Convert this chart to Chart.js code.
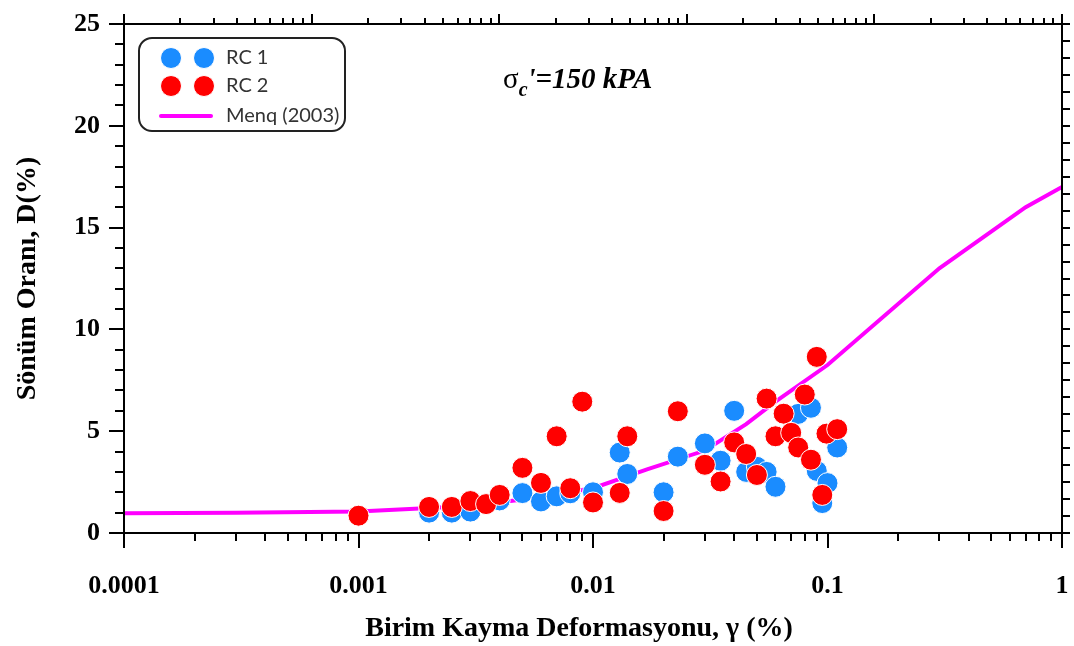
<!DOCTYPE html>
<html>
<head>
<meta charset="utf-8">
<title>Sönüm Oranı - Birim Kayma Deformasyonu</title>
<script src="https://cdn.jsdelivr.net/npm/chart.js@4.4.0/dist/chart.umd.min.js"></script>
<style>
  html, body { margin: 0; padding: 0; background: #fff; }
  #kutu { width: 1074px; height: 646px; }
</style>
</head>
<body>
<div id="kutu"><canvas id="grafik" width="1074" height="646"></canvas></div>
<script>
// Veriler (grafikten okunmuş yaklaşık değerler)
const rc1Strain = [0.002, 0.0025, 0.003, 0.004, 0.005, 0.006, 0.007, 0.008, 0.01, 0.013, 0.014, 0.02, 0.023, 0.03, 0.035, 0.04, 0.045, 0.05, 0.055, 0.06, 0.075, 0.085, 0.09, 0.095, 0.1, 0.11];
const rc1Damping = [1.0, 1.0, 1.05, 1.6, 1.96, 1.55, 1.8, 1.95, 2.0, 3.95, 2.9, 2.0, 3.75, 4.4, 3.55, 6.0, 3.0, 3.25, 3.0, 2.27, 5.85, 6.15, 3.05, 1.47, 2.45, 4.2];

const rc2Strain = [0.001, 0.002, 0.0025, 0.003, 0.0035, 0.004, 0.005, 0.006, 0.007, 0.008, 0.009, 0.01, 0.013, 0.014, 0.02, 0.023, 0.03, 0.035, 0.04, 0.045, 0.05, 0.055, 0.06, 0.065, 0.07, 0.075, 0.08, 0.085, 0.09, 0.095, 0.099, 0.11];
const rc2Damping = [0.85, 1.28, 1.28, 1.57, 1.42, 1.87, 3.2, 2.46, 4.75, 2.2, 6.45, 1.5, 1.97, 4.75, 1.08, 5.98, 3.35, 2.53, 4.45, 3.88, 2.85, 6.6, 4.75, 5.86, 4.92, 4.2, 6.8, 3.6, 8.65, 1.87, 4.88, 5.1];

const menqStrain = [0.0001, 0.0003, 0.001, 0.003, 0.005, 0.01, 0.017, 0.03, 0.045, 0.06, 0.1, 0.3, 0.7, 1];
const menqDamping = [0.97, 1.0, 1.05, 1.33, 1.65, 2.2, 3.13, 4.05, 5.35, 6.45, 8.25, 13.0, 16.0, 17.0];

const xTickValues = [0.0001, 0.001, 0.01, 0.1, 1];
const xTickLabels = ['0.0001', '0.001', '0.01', '0.1', '1'];
const yTickStep = 5;

const seriesNames = ['RC 1', 'RC 2', 'Menq (2003)'];
const xTitle = 'Birim Kayma Deformasyonu, γ (%)';
const yTitle = 'Sönüm Oranı, D(%)';

const serif = 'Liberation Serif';

function points(xs, ys) {
  return xs.map(function (v, i) { return { x: v, y: ys[i] }; });
}

function noPad(s) {
  s.paddingLeft = 0; s.paddingRight = 0; s.paddingTop = 0; s.paddingBottom = 0;
}

// Beyaz arka plan, çerçeve ve tik çizgileri
const cerceve = {
  id: 'cerceve',
  beforeDraw(chart) {
    const ctx = chart.ctx;
    ctx.save();
    ctx.fillStyle = '#fff';
    ctx.fillRect(0, 0, chart.width, chart.height);
    ctx.restore();
  },
  afterDraw(chart) {
    const ctx = chart.ctx, a = chart.chartArea;
    const x = chart.scales.x, x2 = chart.scales.x2, y = chart.scales.y, y2 = chart.scales.y2;
    ctx.save();
    ctx.strokeStyle = '#000';
    ctx.lineWidth = 2;
    ctx.strokeRect(a.left, a.top, a.right - a.left, a.bottom - a.top);
    ctx.beginPath();
    // alt eksen (log)
    for (let k = -4; k <= 0; k++) {
      for (let m = 1; m <= 9; m++) {
        const v = m * Math.pow(10, k);
        if (v > 1.000001) break;
        const px = Math.round(x.getPixelForValue(v));
        ctx.moveTo(px, a.bottom); ctx.lineTo(px, a.bottom + (m === 1 ? 15 : 8));
      }
    }
    // üst eksen (log, 5 dekad)
    for (let k = -5; k <= 0; k++) {
      for (let m = 1; m <= 9; m++) {
        const v = m * Math.pow(10, k);
        if (v > 1.000001) break;
        const px = Math.round(x2.getPixelForValue(v));
        ctx.moveTo(px, a.top); ctx.lineTo(px, a.top - (m === 1 ? 10 : 6));
      }
    }
    // sol eksen
    for (let v = 0; v <= 25; v++) {
      const py = Math.round(y.getPixelForValue(v));
      ctx.moveTo(a.left, py); ctx.lineTo(a.left - (v % 5 === 0 ? 15 : 9), py);
    }
    // sağ eksen
    for (let v = 0; v <= 30; v++) {
      const py = Math.round(y2.getPixelForValue(v));
      ctx.moveTo(a.right, py); ctx.lineTo(a.right + 8, py);
    }
    ctx.stroke();
    ctx.restore();
  }
};

// Lejant kutusu ve σc' notu
const lejant = {
  id: 'lejant',
  afterDatasetsDraw(chart) {
    const ctx = chart.ctx;
    const ds = chart.data.datasets;
    ctx.save();
    // kutu
    const bx = 139, by = 38, bw = 206, bh = 93, r = 13;
    ctx.beginPath();
    ctx.moveTo(bx + r, by);
    ctx.arcTo(bx + bw, by, bx + bw, by + bh, r);
    ctx.arcTo(bx + bw, by + bh, bx, by + bh, r);
    ctx.arcTo(bx, by + bh, bx, by, r);
    ctx.arcTo(bx, by, bx + bw, by, r);
    ctx.closePath();
    ctx.fillStyle = '#fff';
    ctx.fill();
    ctx.lineWidth = 2;
    ctx.strokeStyle = '#222';
    ctx.stroke();

    const rows = [58, 86, 116];
    ctx.font = '20px Lato';
    ctx.textBaseline = 'middle';
    for (let i = 0; i < 2; i++) {
      [171, 204].forEach(function (cx) {
        ctx.beginPath();
        ctx.arc(cx, rows[i], 10.5, 0, Math.PI * 2);
        ctx.fillStyle = ds[i].backgroundColor;
        ctx.fill();
        ctx.lineWidth = 1;
        ctx.strokeStyle = '#fff';
        ctx.stroke();
      });
      ctx.fillStyle = '#333';
      ctx.fillText(ds[i].label, 226, rows[i]);
    }
    ctx.beginPath();
    ctx.moveTo(161, rows[2]); ctx.lineTo(211, rows[2]);
    ctx.lineWidth = 4;
    ctx.lineCap = 'round';
    ctx.strokeStyle = ds[2].borderColor;
    ctx.stroke();
    ctx.fillStyle = '#333';
    ctx.fillText(ds[2].label, 226, rows[2]);

    // σc'=150 kPA
    ctx.fillStyle = '#000';
    ctx.textBaseline = 'alphabetic';
    let tx = 503;
    ctx.font = '29px "' + serif + '"';
    ctx.fillText('σ', tx, 88);
    tx += ctx.measureText('σ').width;
    ctx.font = 'italic bold 20px "' + serif + '"';
    ctx.fillText('c', tx, 96);
    tx += ctx.measureText('c').width;
    ctx.font = 'italic bold 29px "' + serif + '"';
    ctx.fillText("'=150 kPA", tx, 88);
    ctx.restore();
  }
};

const ctx = document.getElementById('grafik').getContext('2d');

const grafik = new Chart(ctx, {
  type: 'scatter',
  data: {
    datasets: [
      {
        label: seriesNames[0],
        data: points(rc1Strain, rc1Damping),
        backgroundColor: '#1a8cff',
        borderColor: '#ffffff',
        borderWidth: 1,
        pointRadius: 10.5,
        order: 1
      },
      {
        label: seriesNames[1],
        data: points(rc2Strain, rc2Damping),
        backgroundColor: '#ff0000',
        borderColor: '#ffffff',
        borderWidth: 1,
        pointRadius: 10.5,
        order: 0
      },
      {
        label: seriesNames[2],
        data: points(menqStrain, menqDamping),
        showLine: true,
        borderColor: '#ff00ff',
        backgroundColor: '#ff00ff',
        borderWidth: 4,
        pointRadius: 0,
        tension: 0,
        order: 2
      }
    ]
  },
  options: {
    responsive: false,
    animation: false,
    layout: { padding: { top: 24, right: 12, left: 0, bottom: 0 } },
    plugins: {
      legend: { display: false },
      tooltip: { enabled: false }
    },
    scales: {
      x: {
        type: 'logarithmic',
        position: 'bottom',
        min: 0.0001,
        max: 1,
        afterBuildTicks: function (s) { s.ticks = xTickValues.map(function (v) { return { value: v }; }); },
        afterFit: function (s) { s.height = 113; noPad(s); },
        grid: { display: false },
        border: { display: false },
        ticks: {
          autoSkip: false,
          maxRotation: 0,
          padding: 30,
          color: '#000',
          font: { family: serif, size: 26, weight: 'bold' },
          callback: function (v, i) { return xTickLabels[i]; }
        },
        title: {
          display: true,
          // sondaki boşluklar başlığı biraz sola kaydırır
          text: xTitle + '\u00A0\u00A0\u00A0\u00A0',
          color: '#000',
          font: { family: serif, size: 28, weight: 'bold', lineHeight: 1 },
          padding: { top: 0, bottom: 3 }
        }
      },
      y: {
        position: 'left',
        min: 0,
        max: 25,
        afterFit: function (s) { s.width = 124; noPad(s); },
        grid: { display: false },
        border: { display: false },
        ticks: {
          stepSize: yTickStep,
          padding: 16,
          color: '#000',
          font: { family: serif, size: 26, weight: 'bold' }
        },
        title: {
          display: true,
          text: yTitle,
          color: '#000',
          font: { family: serif, size: 28, weight: 'bold', lineHeight: 1 },
          padding: { top: 14, bottom: 0 }
        }
      },
      x2: { type: 'logarithmic', position: 'top', min: 0.00001, max: 1, display: false },
      y2: { position: 'right', min: 0, max: 30, display: false }
    }
  },
  plugins: [cerceve, lejant]
});
</script>
</body>
</html>
